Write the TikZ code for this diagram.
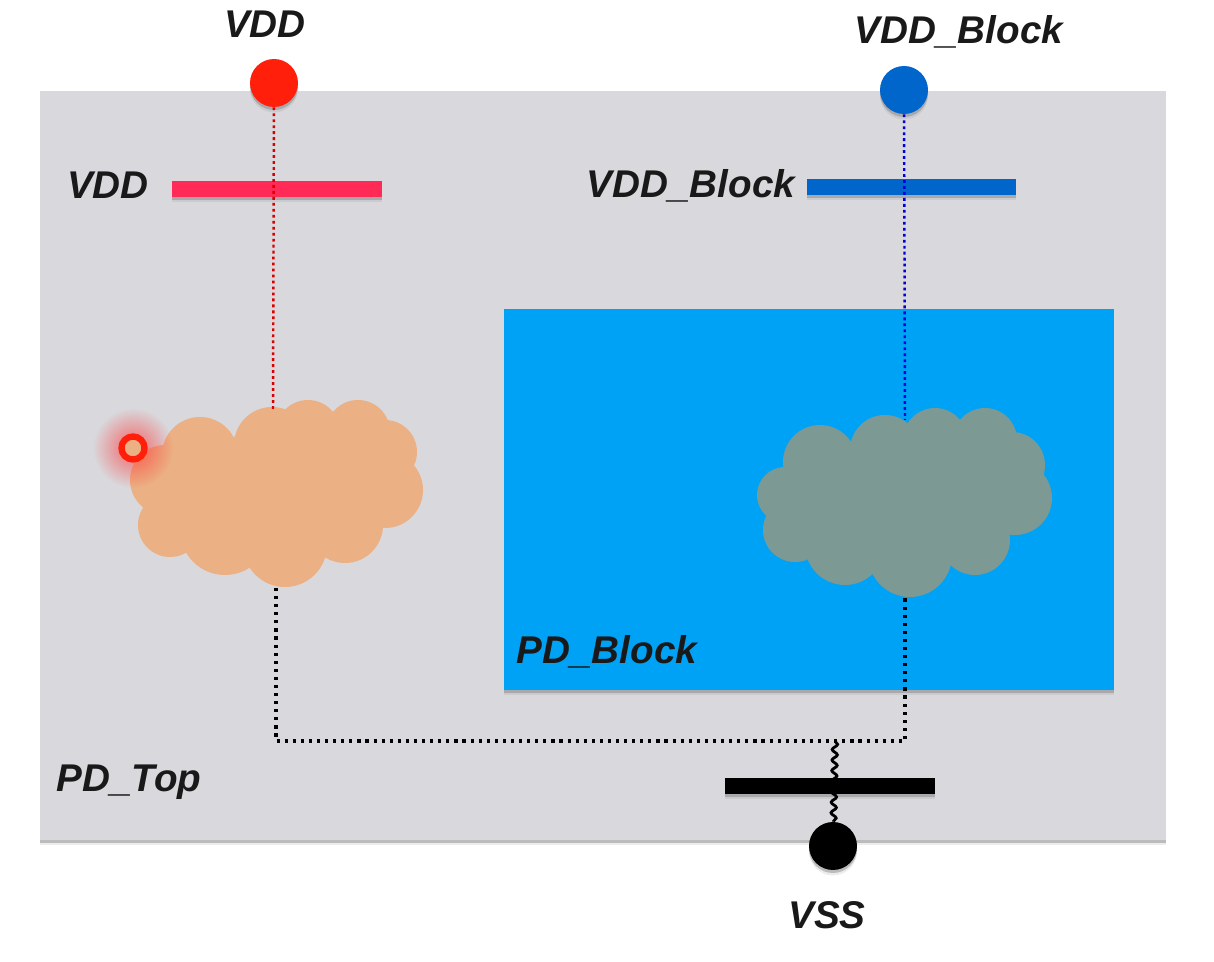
\documentclass[tikz,border=0pt]{standalone}
\usepackage{fontspec}
\setmainfont{Liberation Sans}
\usetikzlibrary{shadows,decorations.pathmorphing,fadings}
\definecolor{topgray}{HTML}{D9D8DC}
\definecolor{blockblue}{HTML}{00A2F5}
\definecolor{vddred}{HTML}{FF2A55}
\definecolor{pinred}{HTML}{FF1F0A}
\definecolor{railblue}{HTML}{0066CC}
\definecolor{cloudtan}{HTML}{EBB083}
\definecolor{cloudgray}{HTML}{7C9A93}
\tikzfading[name=glowfade, inner color=transparent!30, outer color=transparent!100]
\begin{document}
\begin{tikzpicture}[
    x=0.02cm, y=-0.02cm,
    softshadow/.style={drop shadow={shadow xshift=0pt, shadow yshift=-0.11cm, opacity=0.15},
      drop shadow={shadow xshift=0pt, shadow yshift=-0.06cm, opacity=0.45}},
    pdbox/.style={rectangle, softshadow, inner sep=0pt},
    railbar/.style={rectangle, softshadow, inner sep=0pt, minimum width=4.2cm, minimum height=0.32cm},
    pinball/.style={circle, inner sep=0pt, minimum size=0.96cm, softshadow},
    netname/.style={font=\fontsize{22}{26}\selectfont\bfseries\itshape, text=black!90, inner sep=0pt},
    wire/.style={line width=1.8pt, dash pattern=on 1.8pt off 2.8pt},
    thinwire/.style={line width=1.4pt, dash pattern=on 1.6pt off 1.8pt}
]
\useasboundingbox (0,0) rectangle (1214,962);

% Domains
\node (pdtop) [pdbox, fill=topgray, minimum width=22.52cm, minimum height=14.98cm] at (603,465.5) {};
\node (pdblock) [pdbox, fill=blockblue, minimum width=12.2cm, minimum height=7.62cm] at (809,499.5) {};

% Rails
\node (vddrail) [railbar, fill=vddred] at (277,189) {};
\node (blockrail) [railbar, fill=railblue] at (911.5,187) {};
\node (vssrail) [railbar, fill=black] at (830,786) {};

% Clouds
\foreach \px/\py/\pr in {200/455/38, 272/445/38, 308/432/32, 358/432/32, 385/452/32, 385/490/38, 345/525/38, 285/545/42, 225/530/45, 170/525/32, 165/480/35, 280/490/70, 225/490/50, 335/490/50}
  \fill[cloudtan] (\px,\py) circle[radius=\pr];
\foreach \px/\py/\pr in {820/462/37, 885/450/35, 935/440/32, 985/440/32, 1012/465/33, 1015/498/37, 975/540/35, 910/555/42, 845/545/40, 795/530/32, 785/495/28, 900/495/70, 840/500/50, 960/495/50}
  \fill[cloudgray] (\px,\py) circle[radius=\pr];

% Probe
\fill[red!80, path fading=glowfade] (133,448) circle[radius=40];
\node (probe) [circle, draw=pinred, line width=3.6pt, fill=cloudtan, inner sep=0pt, minimum size=0.46cm] at (133,448) {};

% Pins
\node (vddpin) [pinball, fill=pinred] at (274,83) {};
\node (blockpin) [pinball, fill=railblue] at (904,90) {};
\node (vsspin) [pinball, fill=black] at (833,846) {};

% Labels
\node (vddtop) [netname] at (265,24) {VDD};
\node (blocktop) [netname] at (959,32) {VDD\_Block};
\node (vddname) [netname] at (108,185) {VDD};
\node (blockname) [netname] at (691,186) {VDD\_Block};
\node (blockdomain) [netname] at (607,652) {PD\_Block};
\node (topdomain) [netname] at (129,782) {PD\_Top};
\node (vssname) [netname] at (827,915) {VSS};

% Arrows
\coordinate (lefttop) at (273,410);
\coordinate (rightop) at (905,420);
\coordinate (leftbot) at (276,588);
\coordinate (rightbot) at (905,598);
\coordinate (wirecorner) at (905,741);
\coordinate (vssjoin) at (835,741);
\draw [thinwire, red!85!black] (vddpin) -- (lefttop);
\draw [thinwire, blue!85!black] (blockpin) -- (rightop);
\draw [wire, black] (leftbot) |- (wirecorner) -- (rightbot);
\draw [black, line width=1.6pt, decorate, decoration={snake, amplitude=1.5pt, segment length=6pt}] (vssjoin) -- (vsspin);

\end{tikzpicture}
\end{document}
